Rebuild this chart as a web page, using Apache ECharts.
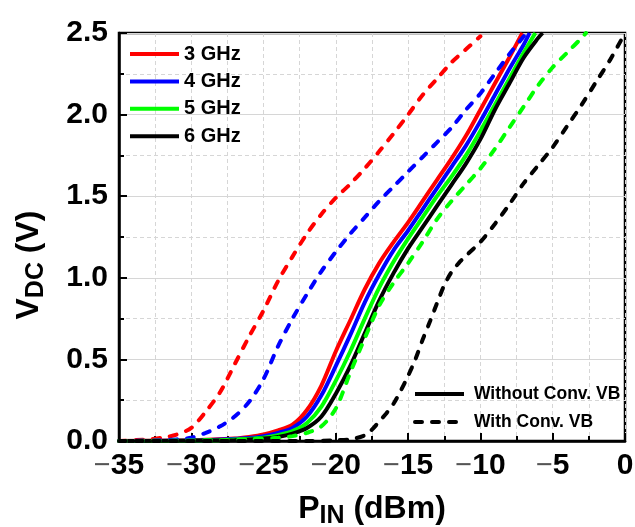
<!DOCTYPE html>
<html>
<head>
<meta charset="utf-8">
<script src="https://cdn.jsdelivr.net/npm/echarts@6/dist/echarts.min.js"></script>
<style>
  html, body { margin: 0; padding: 0; background: #fff; }
  #chart { width: 635px; height: 527px; }
</style>
</head>
<body>
<div id="chart"></div>
<script>
// Rectified DC output voltage versus RF input power, [PIN (dBm), VDC (V)]
// Without conventional VB
const without3GHz = [[-35,0],[-30,0.005],[-27,0.015],[-26,0.025],[-25,0.04],[-24,0.065],[-23,0.1],[-22,0.19],[-21,0.34],[-20,0.55],[-19,0.74],[-18,0.93],[-17,1.09],[-16,1.22],[-15,1.34],[-14,1.47],[-13,1.6],[-12,1.73],[-11,1.87],[-10,2.03],[-9,2.19],[-8,2.35],[-7.1,2.5]];
const without4GHz = [[-35,0],[-29,0.005],[-26,0.018],[-25,0.03],[-24,0.05],[-23,0.08],[-22,0.15],[-21,0.28],[-20,0.46],[-19,0.65],[-18,0.85],[-17,1.02],[-16,1.17],[-15,1.29],[-14,1.42],[-13,1.55],[-12,1.68],[-11,1.81],[-10,1.96],[-9,2.12],[-8,2.28],[-7,2.43],[-6.6,2.5]];
const without5GHz = [[-35,0],[-28,0.005],[-25,0.02],[-24,0.035],[-23,0.06],[-22,0.11],[-21,0.21],[-20,0.37],[-19,0.55],[-18,0.75],[-17,0.94],[-16,1.1],[-15,1.24],[-14,1.37],[-13,1.5],[-12,1.62],[-11,1.75],[-10,1.9],[-9,2.06],[-8,2.22],[-7,2.38],[-6.2,2.5]];
const without6GHz = [[-35,0],[-27,0.005],[-25,0.015],[-24,0.025],[-23,0.045],[-22,0.08],[-21,0.15],[-20,0.29],[-19,0.46],[-18,0.66],[-17,0.86],[-16,1.03],[-15,1.18],[-14,1.31],[-13,1.44],[-12,1.57],[-11,1.7],[-10,1.85],[-9,2.03],[-8,2.19],[-7,2.35],[-6,2.47],[-5.7,2.5]];
// With conventional VB
const with3GHz = [[-35,0],[-33,0.01],[-32,0.02],[-31,0.04],[-30,0.08],[-29,0.18],[-28,0.3],[-27,0.47],[-26,0.64],[-25,0.8],[-24,0.98],[-23,1.13],[-22,1.27],[-21,1.39],[-20,1.49],[-19,1.575],[-18,1.67],[-17,1.775],[-16,1.885],[-15,2.0],[-14,2.12],[-13,2.22],[-12,2.32],[-11,2.4],[-10,2.48]];
const with4GHz = [[-35,0],[-32,0.005],[-31,0.01],[-30,0.02],[-29,0.05],[-28,0.09],[-27,0.15],[-26,0.24],[-25,0.38],[-24,0.58],[-23,0.75],[-22,0.9],[-21,1.04],[-20,1.16],[-19,1.27],[-18,1.37],[-17,1.47],[-16,1.56],[-15,1.65],[-14,1.74],[-13,1.83],[-12,1.92],[-11,2.03],[-10,2.13],[-9,2.25],[-8,2.37],[-7,2.48],[-6.8,2.5]];
const with5GHz = [[-35,0],[-28,0.005],[-26,0.01],[-24,0.02],[-23,0.03],[-22,0.05],[-21,0.09],[-20,0.2],[-19,0.42],[-18,0.63],[-17,0.83],[-16,0.97],[-15,1.09],[-14,1.22],[-13,1.36],[-12,1.47],[-11,1.57],[-10,1.67],[-9,1.79],[-8,1.92],[-7,2.05],[-6,2.18],[-5,2.29],[-4,2.38],[-3,2.47],[-2.7,2.5]];
const with6GHz = [[-35,0],[-22,0],[-20,0.005],[-19,0.01],[-18,0.035],[-17.5,0.07],[-17,0.12],[-16.5,0.17],[-16,0.23],[-15.5,0.31],[-15,0.4],[-14.5,0.5],[-14,0.62],[-13.5,0.73],[-13,0.845],[-12.5,0.955],[-12,1.035],[-11.5,1.09],[-11,1.135],[-10,1.22],[-9,1.33],[-8,1.45],[-7,1.58],[-6,1.69],[-5,1.8],[-4,1.93],[-3,2.06],[-2,2.2],[-1,2.34],[0,2.5]];

const frequencies = ['3 GHz', '4 GHz', '5 GHz', '6 GHz'];
const biasModes = ['Without Conv. VB', 'With Conv. VB'];
const freqColors = ['#ff0000', '#0000ff', '#00ff00', '#000000'];
const withoutData = [without3GHz, without4GHz, without5GHz, without6GHz];
const withData = [with3GHz, with4GHz, with5GHz, with6GHz];

const FONT = 'Arial, "Liberation Sans", Helvetica, sans-serif';
const DASH = [7, 10];
const SMOOTH = 0.3;

const series = [];
frequencies.forEach((f, i) => {
  series.push({
    name: f, type: 'line', data: withoutData[i],
    showSymbol: false, symbol: 'none', smooth: SMOOTH,
    itemStyle: { color: freqColors[i] },
    lineStyle: { color: freqColors[i], width: 4 },
    z: 3
  });
});
frequencies.forEach((f, i) => {
  series.push({
    name: f + ' (Conv. VB)', type: 'line', data: withData[i],
    showSymbol: false, symbol: 'none', smooth: SMOOTH,
    itemStyle: { color: freqColors[i] },
    lineStyle: { color: freqColors[i], width: 4, type: DASH, cap: 'round' },
    z: 4
  });
});
// legend keys for the two bias modes (line style only)
series.push({
  name: biasModes[0], type: 'line', data: [], symbol: 'none',
  itemStyle: { color: '#000' }, lineStyle: { color: '#000', width: 4 }
});
series.push({
  name: biasModes[1], type: 'line', data: [], symbol: 'none',
  itemStyle: { color: '#000' }, lineStyle: { color: '#000', width: 4, type: DASH, cap: 'round' }
});

const gridColor = '#d6d6d6';
const titleRich = {
  a: { fontFamily: FONT, fontWeight: 'bold', fontSize: 32, color: '#000' },
  b: { fontFamily: FONT, fontWeight: 'bold', fontSize: 25, color: '#000', padding: [14, 0, 0, 0], verticalAlign: 'bottom' }
};

const option = {
  animation: false,
  backgroundColor: '#fff',
  grid: {
    left: 119, right: 10, top: 33, bottom: 86,
    outerBoundsMode: 'none', containLabel: false,
    show: true, borderColor: '#000', borderWidth: 2.5, backgroundColor: 'transparent'
  },
  legend: [
    {
      data: frequencies, orient: 'vertical', left: 128, top: 44,
      padding: 0, itemWidth: 49, itemHeight: 14, itemGap: 7.4,
      itemStyle: { opacity: 0 }, lineStyle: { width: 4 },
      textStyle: { fontFamily: FONT, fontWeight: 'bold', fontSize: 20, color: '#000', lineHeight: 20 }
    },
    {
      data: biasModes, orient: 'vertical', left: 413, top: 384,
      padding: 0, itemWidth: 49, itemHeight: 14, itemGap: 8,
      itemStyle: { opacity: 0 }, lineStyle: { width: 4 },
      textStyle: { fontFamily: FONT, fontWeight: 'bold', fontSize: 17.5, color: '#000', lineHeight: 20, padding: [0, 0, 0, 5] }
    }
  ],
  xAxis: {
    type: 'value', min: -35, max: 0, interval: 5,
    name: '{a|P}{b|IN}{a| (dBm)}', nameLocation: 'middle', nameGap: 49,
    nameTextStyle: { rich: titleRich },
    axisLine: { show: true, onZero: false, lineStyle: { color: '#000', width: 2.5 } },
    axisTick: { show: true, inside: true, length: 8, lineStyle: { color: '#000', width: 2 } },
    minorTick: { show: true, splitNumber: 2, length: 5, lineStyle: { color: '#000', width: 2 } },
    splitLine: { show: true, lineStyle: { color: gridColor, width: 1, type: [4, 3] } },
    minorSplitLine: { show: true, lineStyle: { color: gridColor, width: 1, type: [4, 3] } },
    axisLabel: {
      margin: 10,
      formatter: v => v < 0 ? '{m|\u2212}{n|' + Math.abs(v) + '}' : '{n|' + v + '}',
      rich: {
        m: { fontFamily: FONT, fontWeight: 'normal', fontSize: 29, color: '#555' },
        n: { fontFamily: FONT, fontWeight: 'bold', fontSize: 30, color: '#000' }
      }
    }
  },
  yAxis: {
    type: 'value', min: 0, max: 2.5, interval: 0.5,
    name: '{a|V}{b|DC}{a| (V)}', nameLocation: 'middle', nameGap: 70,
    nameTextStyle: { padding: [0, 56, 0, 0], rich: titleRich },
    axisLine: { show: true, onZero: false, lineStyle: { color: '#000', width: 2.5 } },
    axisTick: { show: true, inside: true, length: 8, lineStyle: { color: '#000', width: 2 } },
    minorTick: { show: true, splitNumber: 2, length: 5, lineStyle: { color: '#000', width: 2 } },
    splitLine: { show: true, lineStyle: { color: gridColor, width: 1.2, type: 'solid' } },
    minorSplitLine: { show: true, lineStyle: { color: gridColor, width: 1, type: [4, 3] } },
    axisLabel: {
      margin: 11,
      fontFamily: FONT, fontWeight: 'bold', fontSize: 30, color: '#000',
      formatter: v => v.toFixed(1)
    }
  },
  series: series
};

const chart = echarts.init(document.getElementById('chart'), null, { renderer: 'canvas' });
chart.setOption(option);
</script>
</body>
</html>
